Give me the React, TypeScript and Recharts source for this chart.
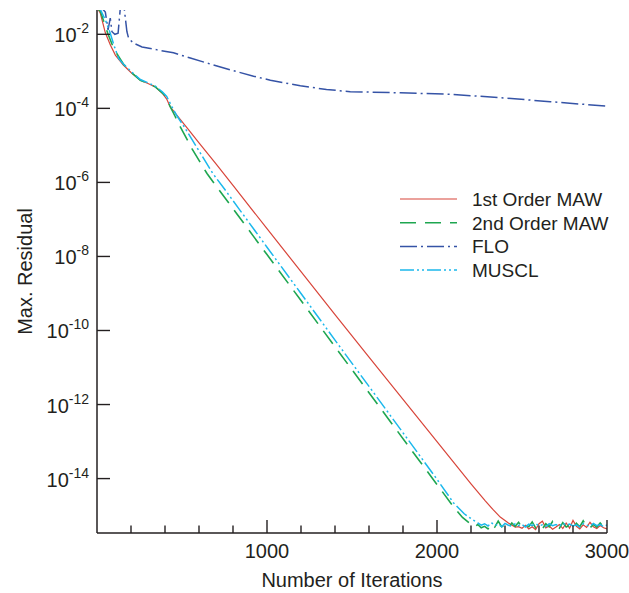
import React from 'react';
import { LineChart, Line, XAxis, YAxis, Legend, Label } from 'recharts';

// Convergence history: iteration number and log10 of the max residual
const maw1Iter = [
  0, 19, 49, 80, 108, 155, 200, 255, 300, 343, 384, 410, 431, 480, 537, 600, 700, 800, 1000,
  1200, 1400, 1600, 1800, 2000, 2200, 2284, 2330, 2372, 2420, 2460, 2480, 2500, 2520, 2540,
  2560, 2580, 2600, 2620, 2640, 2660, 2680, 2700, 2720, 2740, 2760, 2780, 2800, 2820, 2840,
  2860, 2880, 2900, 2920, 2940, 2960, 2980, 3000,
];
const maw1Exp = [
  -1.28, -1.42, -1.96, -2.3, -2.56, -2.83, -3.03, -3.24, -3.33, -3.42, -3.59, -3.75, -3.96,
  -4.24, -4.57, -4.93, -5.5, -6.08, -7.25, -8.41, -9.57, -10.72, -11.86, -13.0, -14.14, -14.6,
  -14.84, -15.04, -15.2, -15.31, -15.3, -15.34, -15.26, -15.36, -15.3, -15.38, -15.22, -15.15,
  -15.33, -15.28, -15.37, -15.31, -15.24, -15.35, -15.2, -15.34, -15.13, -15.29, -15.36,
  -15.25, -15.32, -15.18, -15.3, -15.35, -15.27, -15.33, -15.36,
];

const maw2Iter = [
  0, 20, 63, 100, 155, 200, 255, 300, 343, 384, 402, 430, 460, 490, 560, 647, 700, 784, 1000,
  1200, 1400, 1600, 1843, 2000, 2098, 2150, 2196, 2220, 2240, 2260, 2280, 2300, 2320, 2340,
  2360, 2380, 2400, 2420, 2440, 2460, 2480, 2500, 2520, 2540, 2560, 2580, 2600, 2620, 2640,
  2660, 2680, 2700, 2720, 2740, 2760, 2780, 2800, 2820, 2840, 2860, 2880, 2900, 2920, 2940,
  2960, 2980, 3000,
];
const maw2Exp = [
  -1.28, -1.38, -1.97, -2.4, -2.8, -3.02, -3.24, -3.33, -3.42, -3.58, -3.66, -3.95, -4.22,
  -4.5, -5.1, -5.76, -6.09, -6.61, -7.95, -9.19, -10.44, -11.68, -13.19, -14.16, -14.77,
  -15.05, -15.22, -15.3, -15.24, -15.33, -15.29, -15.36, -15.22, -15.31, -15.15, -15.3,
  -15.26, -15.34, -15.2, -15.29, -15.18, -15.32, -15.25, -15.3, -15.17, -15.33, -15.28,
  -15.36, -15.22, -15.3, -15.16, -15.29, -15.34, -15.19, -15.31, -15.26, -15.35, -15.21,
  -15.3, -15.14, -15.29, -15.33, -15.24, -15.31, -15.2, -15.3, -15.27,
];

const floIter = [
  0, 30, 49, 65, 78, 88, 105, 124, 137, 150, 160, 176, 186, 215, 265, 314, 355, 450, 549, 650,
  784, 921, 1020, 1196, 1350, 1490, 1784, 2078, 2372, 2666, 3000,
];
const floExp = [
  -1.2, -1.3, -1.4, -1.88, -1.56, -1.93, -2.0, -1.97, -1.3, -1.2, -1.3, -1.93, -2.11, -2.24,
  -2.34, -2.38, -2.42, -2.5, -2.64, -2.78, -2.96, -3.13, -3.24, -3.39, -3.49, -3.55, -3.58,
  -3.62, -3.71, -3.82, -3.94,
];

const musclIter = [
  0, 20, 50, 78, 100, 127, 155, 200, 255, 300, 343, 384, 410, 440, 470, 520, 600, 680, 750,
  833, 1000, 1200, 1400, 1600, 1862, 2000, 2098, 2160, 2206, 2240, 2260, 2280, 2300, 2320,
  2340, 2360, 2380, 2400, 2420, 2440, 2460, 2480, 2500, 2520, 2540, 2560, 2580, 2600, 2620,
  2640, 2660, 2680, 2700, 2720, 2740, 2760, 2780, 2800, 2820, 2840, 2860, 2880, 2900, 2920,
  2940, 2960, 2980, 3000,
];
const musclExp = [
  -1.25, -1.33, -1.62, -1.97, -2.3, -2.65, -2.8, -3.0, -3.22, -3.31, -3.4, -3.55, -3.68,
  -3.95, -4.2, -4.55, -5.15, -5.75, -6.18, -6.7, -7.75, -9.0, -10.26, -11.51, -13.15, -14.02,
  -14.66, -14.95, -15.1, -15.2, -15.26, -15.22, -15.28, -15.19, -15.27, -15.23, -15.3,
  -15.21, -15.26, -15.29, -15.22, -15.27, -15.24, -15.31, -15.23, -15.27, -15.21, -15.28,
  -15.25, -15.3, -15.22, -15.27, -15.24, -15.29, -15.2, -15.26, -15.23, -15.28, -15.25,
  -15.31, -15.22, -15.26, -15.29, -15.21, -15.27, -15.24, -15.3, -15.25,
];

const xTicks = [200, 400, 600, 800, 1000, 1200, 1400, 1600, 1800, 2000, 2200, 2400, 2600, 2800, 3000];
const xLabelled = [1000, 2000, 3000];
const yTickExps = [-14, -12, -10, -8, -6, -4, -2];

const toRows = (iters: number[], exps: number[]) =>
  iters.map((it, i) => ({ iter: it, res: Math.pow(10, exps[i]) }));

const FONT = '"Liberation Sans", Arial, Helvetica, sans-serif';
const INK = '#231f20';
const RED = '#d8453a';
const GREEN = '#1ea650';
const NAVY = '#3553a6';
const CYAN = '#1bb8ec';

const series = [
  { name: '1st Order MAW', rows: toRows(maw1Iter, maw1Exp), color: RED, dash: undefined, width: 1.2 },
  { name: '2nd Order MAW', rows: toRows(maw2Iter, maw2Exp), color: GREEN, dash: '16 9', width: 1.6 },
  { name: 'FLO', rows: toRows(floIter, floExp), color: NAVY, dash: '17 4 2 4', width: 1.5 },
  { name: 'MUSCL', rows: toRows(musclIter, musclExp), color: CYAN, dash: '14 3 2 3 2 3', width: 1.5 },
];

const XTick = (props: any) => {
  const { x, y, payload } = props;
  const major = xLabelled.includes(payload.value);
  return (
    <g>
      <line x1={x} y1={y} x2={x} y2={y - (major ? 13 : 7.5)} stroke={INK} strokeWidth={1.4} />
      {major && (
        <text x={x} y={y + 25} textAnchor="middle" fontSize={20} fontFamily={FONT} fill={INK}>
          {payload.value}
        </text>
      )}
    </g>
  );
};

const YTick = (props: any) => {
  const { x, y, payload } = props;
  const exp = Math.round(Math.log10(payload.value));
  return (
    <g>
      <line x1={x} y1={y} x2={x + 13} y2={y} stroke={INK} strokeWidth={1.4} />
      <text x={x - 8} y={y + 8} textAnchor="end" fontSize={20} fontFamily={FONT} fill={INK}>
        10
        <tspan dy={-9} fontSize={14}>
          {exp}
        </tspan>
      </text>
    </g>
  );
};

const LegendBox = () => (
  <svg width={230} height={100}>
    {series.map((s, i) => {
      const cy = 14 + i * 23.7;
      return (
        <g key={s.name}>
          <line x1={5} y1={cy} x2={62} y2={cy} stroke={s.color} strokeWidth={s.width} strokeDasharray={s.dash} />
          <text x={77} y={cy + 7} fontSize={19} fontFamily={FONT} fill={INK}>
            {s.name}
          </text>
        </g>
      );
    })}
  </svg>
);

export default function App() {
  return (
    <div style={{ position: 'absolute', left: 0, top: 0, width: 629, height: 593, background: '#fff' }}>
      <LineChart width={629} height={593} margin={{ top: 10, right: 22, bottom: 0, left: 0 }}>
        <XAxis
          type="number"
          dataKey="iter"
          domain={[0, 3000]}
          ticks={xTicks}
          interval={0}
          allowDataOverflow
          tick={XTick}
          tickLine={false}
          tickSize={0}
          tickMargin={0}
          height={60}
          axisLine={{ stroke: INK, strokeWidth: 1.5 }}
        >
          <Label
            content={(p: any) => {
              const vb = p.viewBox;
              return (
                <text x={vb.x + vb.width / 2} y={587} textAnchor="middle" fontSize={20} fontFamily={FONT} fill={INK}>
                  Number of Iterations
                </text>
              );
            }}
          />
        </XAxis>
        <YAxis
          type="number"
          scale="log"
          domain={[Math.pow(10, -15.47), Math.pow(10, -1.343)]}
          ticks={yTickExps.map((e) => Math.pow(10, e))}
          interval={0}
          allowDataOverflow
          tick={YTick}
          tickLine={false}
          tickSize={0}
          tickMargin={0}
          width={97}
          axisLine={{ stroke: INK, strokeWidth: 1.5 }}
        >
          <Label
            content={(p: any) => {
              const vb = p.viewBox;
              const cy = vb.y + vb.height / 2;
              return (
                <text
                  x={25}
                  y={cy}
                  transform={`rotate(-90 25 ${cy})`}
                  textAnchor="middle"
                  dominantBaseline="central"
                  fontSize={20}
                  fontFamily={FONT}
                  fill={INK}
                >
                  Max. Residual
                </text>
              );
            }}
          />
        </YAxis>
        <Legend
          layout="vertical"
          align="center"
          verticalAlign="middle"
          wrapperStyle={{ left: 395, top: 185, width: 230, height: 100 }}
          content={() => <LegendBox />}
        />
        {series.map((s) => (
          <Line
            key={s.name}
            data={s.rows}
            dataKey="res"
            name={s.name}
            type="linear"
            stroke={s.color}
            strokeWidth={s.width}
            strokeDasharray={s.dash}
            dot={false}
            activeDot={false}
            isAnimationActive={false}
          />
        ))}
      </LineChart>
    </div>
  );
}
